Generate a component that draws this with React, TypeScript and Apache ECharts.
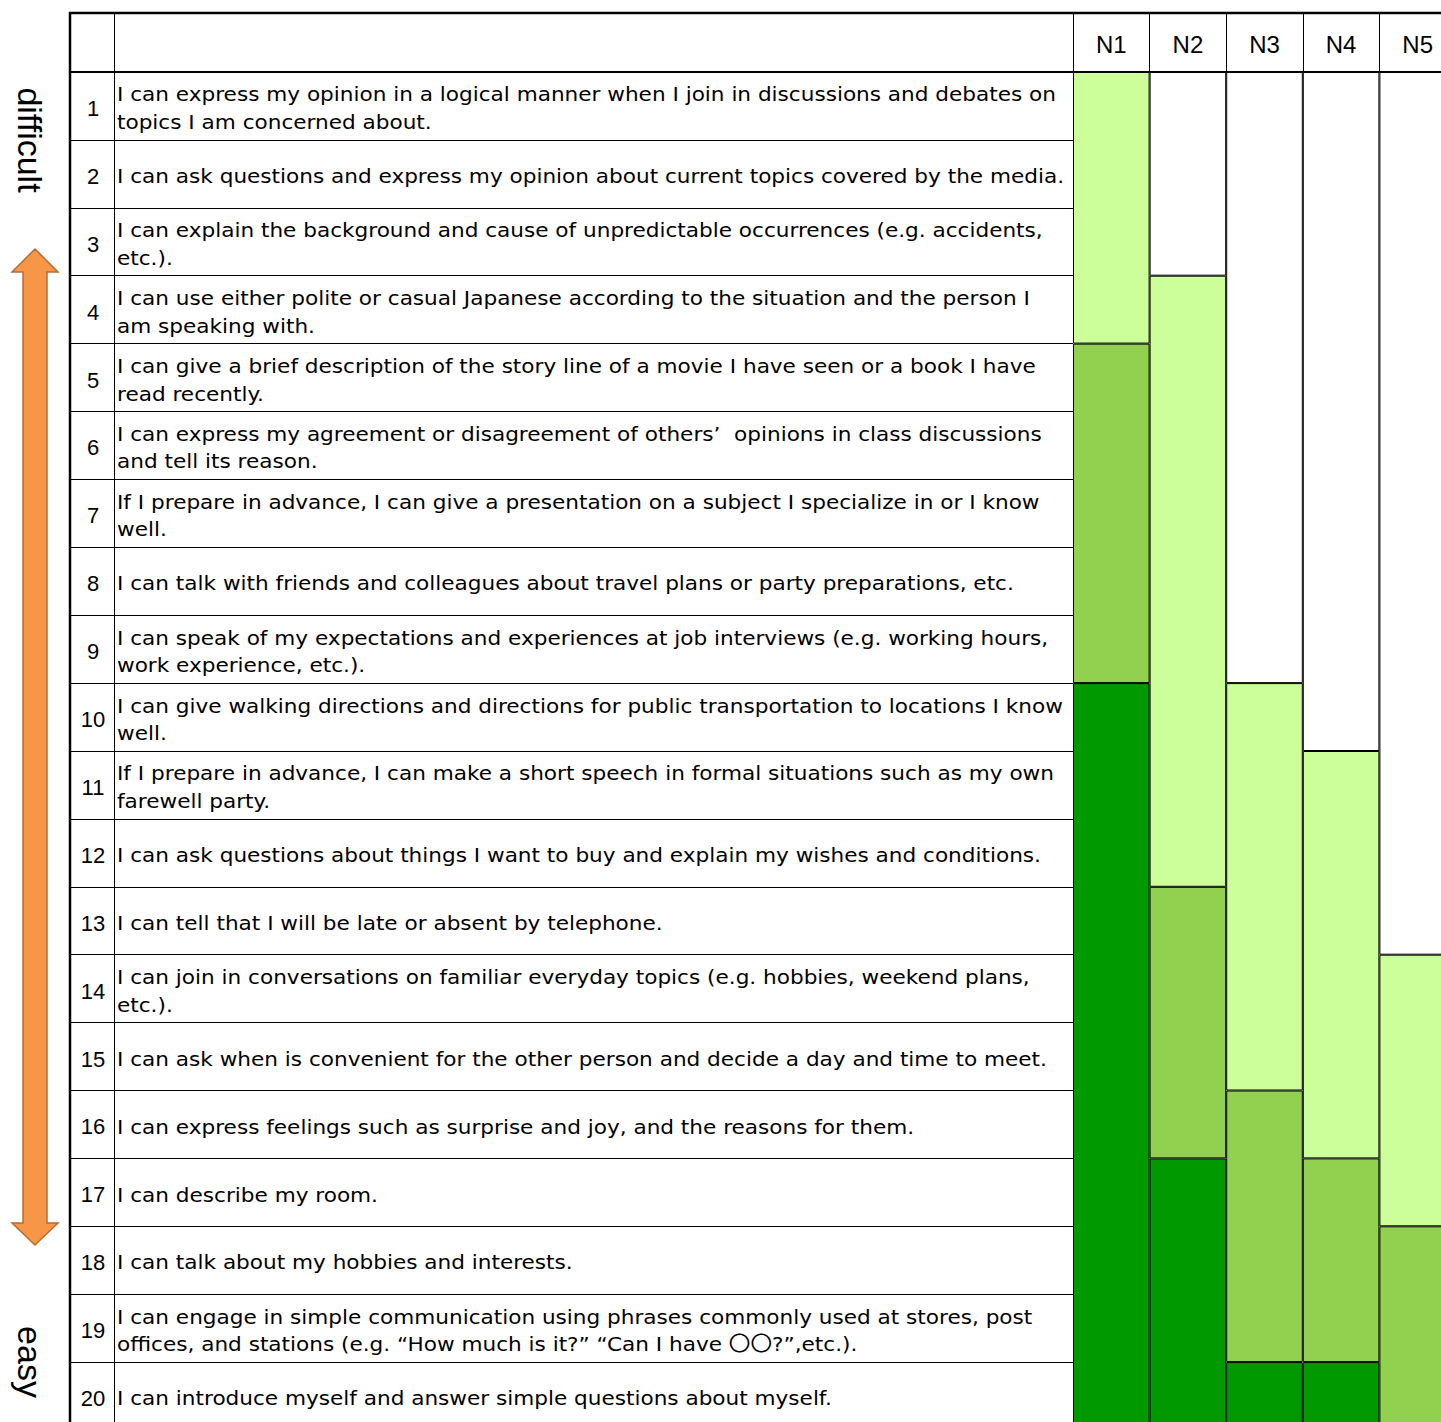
import React, { useEffect, useRef } from "react";
import * as echarts from "echarts";

// ---- data ----
const levelNames = ["N1", "N2", "N3", "N4", "N5"];
const rowNumbers = [
  "1", "2", "3", "4", "5", "6", "7", "8", "9", "10",
  "11", "12", "13", "14", "15", "16", "17", "18", "19", "20",
];
const statements = [
  "I can express my opinion in a logical manner when I join in discussions and debates on\ntopics I am concerned about.",
  "I can ask questions and express my opinion about current topics covered by the media.",
  "I can explain the background and cause of unpredictable occurrences (e.g. accidents,\netc.).",
  "I can use either polite or casual Japanese according to the situation and the person I\nam speaking with.",
  "I can give a brief description of the story line of a movie I have seen or a book I have\nread recently.",
  "I can express my agreement or disagreement of others\u2019  opinions in class discussions\nand tell its reason.",
  "If I prepare in advance, I can give a presentation on a subject I specialize in or I know\nwell.",
  "I can talk with friends and colleagues about travel plans or party preparations, etc.",
  "I can speak of my expectations and experiences at job interviews (e.g. working hours,\nwork experience, etc.).",
  "I can give walking directions and directions for public transportation to locations I know\nwell.",
  "If I prepare in advance, I can make a short speech in formal situations such as my own\nfarewell party.",
  "I can ask questions about things I want to buy and explain my wishes and conditions.",
  "I can tell that I will be late or absent by telephone.",
  "I can join in conversations on familiar everyday topics (e.g. hobbies, weekend plans,\netc.).",
  "I can ask when is convenient for the other person and decide a day and time to meet.",
  "I can express feelings such as surprise and joy, and the reasons for them.",
  "I can describe my room.",
  "I can talk about my hobbies and interests.",
  "I can engage in simple communication using phrases commonly used at stores, post\noffices, and stations (e.g. \u201cHow much is it?\u201d \u201cCan I have \u3007\u3007?\u201d,etc.).",
  "I can introduce myself and answer simple questions about myself.",
];
// number of rows (from the top, row 1 = most difficult) in each band, per level N1..N5
const notReachedRows = [0, 3, 9, 10, 13];
const lightRows = [4, 9, 6, 6, 4];
const mediumRows = [5, 4, 4, 3, 3];
const darkRows = [11, 4, 1, 1, 0];

const topLabel = "difficult";
const bottomLabel = "easy";

// ---- styles ----
const BAND_COLORS = ["#FFFFFF", "#CCFF99", "#92D050", "#009900"];
const ROW_H = 67.9;
const COL_W = 76.6;
const BODY_FONT = '20px "DejaVu Sans", "Noto Sans CJK JP", sans-serif';
const NUM_FONT = '22px "Liberation Sans", sans-serif';
const TEXT_STRETCH = 1.08;

export default function App() {
  const ref = useRef<HTMLDivElement>(null);

  useEffect(() => {
    const chart = echarts.init(ref.current!, null, { renderer: "svg" });
    const bands = [notReachedRows, lightRows, mediumRows, darkRows];

    const option: any = {
      animation: false,
      backgroundColor: "#ffffff",
      grid: [
        { left: 114, top: 72, width: 1073 - 114, height: ROW_H * 20, outerBoundsMode: "none" },
        { left: 1073, top: 72, width: COL_W * 5, height: ROW_H * 20, outerBoundsMode: "none" },
      ],
      xAxis: [
        {
          gridIndex: 0,
          type: "category",
          data: [""],
          position: "top",
          axisLine: { show: false },
          axisTick: { show: true, length: 59, interval: 0, lineStyle: { color: "#000", width: 1 } },
          axisLabel: { show: false },
          splitLine: { show: false },
        },
        {
          gridIndex: 1,
          type: "category",
          data: levelNames,
          position: "top",
          axisLine: { show: false },
          axisTick: { show: true, length: 59, interval: 0, lineStyle: { color: "#000", width: 1 } },
          axisLabel: {
            color: "#000",
            fontSize: 24,
            fontFamily: "Liberation Sans",
            margin: 16,
            interval: 0,
          },
          splitLine: { show: false },
        },
      ],
      yAxis: [
        {
          gridIndex: 0,
          type: "category",
          data: rowNumbers,
          inverse: true,
          axisLine: { show: true, lineStyle: { color: "#000", width: 1 } },
          axisTick: { show: true, length: 44, interval: 0, lineStyle: { color: "#000", width: 1 } },
          axisLabel: { show: false },
          splitLine: { show: true, interval: 0, lineStyle: { color: "#000", width: 1 } },
        },
        {
          gridIndex: 1,
          type: "value",
          min: 0,
          max: 20,
          inverse: true,
          show: false,
          splitLine: { show: false },
        },
      ],
      series: [
        {
          type: "custom",
          xAxisIndex: 0,
          yAxisIndex: 0,
          silent: true,
          clip: false,
          data: statements.map((_, i) => [0, i]),
          renderItem: (params: any, api: any) => {
            const i = params.dataIndex;
            const pt = api.coord([api.value(0), api.value(1)]);
            const cs = params.coordSys;
            const y = pt[1] + 2.5;
            return {
              type: "group",
              children: [
                {
                  type: "text",
                  x: cs.x - 21,
                  y,
                  style: {
                    text: rowNumbers[i],
                    fill: "#000",
                    font: NUM_FONT,
                    align: "center",
                    verticalAlign: "middle",
                  },
                },
                {
                  type: "text",
                  x: cs.x + 3,
                  y,
                  scaleX: TEXT_STRETCH,
                  style: {
                    text: statements[i],
                    fill: "#000",
                    font: BODY_FONT,
                    align: "left",
                    verticalAlign: "middle",
                    lineHeight: 27.5,
                  },
                },
              ],
            };
          },
        },
        ...bands.map((band, b) => ({
          type: "bar",
          xAxisIndex: 1,
          yAxisIndex: 1,
          stack: "level",
          silent: true,
          barWidth: "100%",
          data: band,
          itemStyle: { color: BAND_COLORS[b], borderColor: "#000", borderWidth: 1 },
        })),
      ],
      graphic: [
        { type: "line", shape: { x1: 69, y1: 13, x2: 1480, y2: 13 }, style: { stroke: "#000", lineWidth: 2.5 } },
        { type: "line", shape: { x1: 70, y1: 12, x2: 70, y2: 1460 }, style: { stroke: "#000", lineWidth: 2.5 } },
        { type: "line", shape: { x1: 70, y1: 72, x2: 1480, y2: 72 }, style: { stroke: "#000", lineWidth: 2 } },
        {
          type: "polygon",
          shape: {
            points: [
              [35, 249], [58, 272], [47, 272], [47, 1223], [58, 1223],
              [35, 1245], [12, 1223], [23, 1223], [23, 272], [12, 272],
            ],
          },
          style: { fill: "#F79646", stroke: "#B66D31", lineWidth: 1.5 },
        },
        {
          type: "text",
          x: 30,
          y: 140,
          rotation: -Math.PI / 2,
          style: {
            text: topLabel,
            fill: "#000",
            font: '34px "Liberation Sans"',
            align: "center",
            verticalAlign: "middle",
          },
        },
        {
          type: "text",
          x: 30,
          y: 1362,
          rotation: -Math.PI / 2,
          style: {
            text: bottomLabel,
            fill: "#000",
            font: '34px "Liberation Sans"',
            align: "center",
            verticalAlign: "middle",
          },
        },
      ],
    };

    chart.setOption(option);
    return () => chart.dispose();
  }, []);

  return (
    <div
      style={{ position: "absolute", left: 0, top: 0, width: 1441, height: 1422, overflow: "hidden", background: "#fff" }}
    >
      <div ref={ref} style={{ width: 1480, height: 1460 }} />
    </div>
  );
}
